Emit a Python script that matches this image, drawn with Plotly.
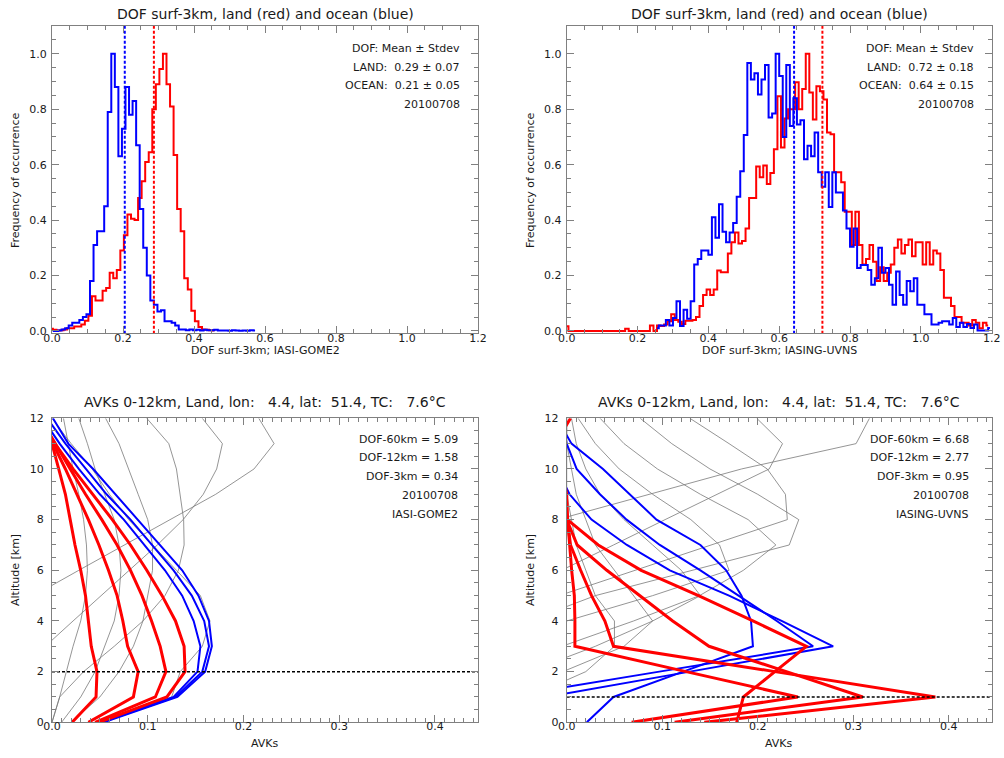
import plotly.graph_objects as go

FONT = "DejaVu Sans"
W, H = 1004, 758

# ---------------- top-left: DOF surf-3km histogram, IASI-GOME2 ----------------
tl_bin_width = 0.01
tl_ocean_first_center = 0.002
tl_ocean_freq = [0.0, 0.0, 0.002, 0.005, 0.01, 0.02, 0.03, 0.03, 0.04, 0.05,
                 0.06, 0.18, 0.31, 0.36, 0.36, 0.45, 0.79, 1.0, 0.88, 0.63,
                 0.73, 0.88, 0.78, 0.83, 0.67, 0.44, 0.30, 0.20, 0.11, 0.095,
                 0.07, 0.075, 0.035, 0.035, 0.03, 0.02, 0.005, 0.005, 0.003, 0.005,
                 0.003, 0.004, 0.002, 0.004, 0.003, 0.003, 0.004, 0.002, 0.002, 0.002,
                 0.001, 0.003, 0.002, 0.001, 0.002, 0.001, 0.003, 0.002]
tl_land_first_center = -0.0025
tl_land_freq = [0.008, 0.004, 0.002, 0.003, 0.005, 0.01, 0.01, 0.016, 0.016, 0.023,
                0.037, 0.055, 0.125, 0.11, 0.11, 0.145, 0.155, 0.21, 0.19, 0.22,
                0.29, 0.345, 0.42, 0.405, 0.40, 0.48, 0.54, 0.61, 0.645, 0.80,
                0.89, 0.945, 1.0, 0.89, 0.81, 0.635, 0.44, 0.36, 0.19, 0.15,
                0.073, 0.035, 0.014, 0.005, 0.004, 0.003, 0.002]
tl_land_mean = 0.287
tl_ocean_mean = 0.205
tl_text = ["DOF: Mean ± Stdev", "LAND:\u00a0 0.29 ± 0.07", "OCEAN:\u00a0 0.21 ± 0.05", "20100708"]

# ---------------- top-right: DOF surf-3km histogram, IASING-UVNS ----------------
tr_bin_width = 0.01
tr_ocean_first_center = 0.255
tr_ocean_freq = [0.01, 0.02, 0.02, 0.04, 0.02, 0.047, 0.107, 0.018, 0.077, 0.044,
                 0.107, 0.24, 0.26, 0.29, 0.29, 0.275, 0.41, 0.336, 0.457, 0.358,
                 0.32, 0.355, 0.39, 0.484, 0.576, 0.707, 0.967, 0.907, 0.93, 0.853,
                 0.907, 0.96, 0.77, 0.785, 1.0, 0.92, 0.70, 0.96, 0.74, 0.84,
                 0.745, 0.76, 0.62, 0.668, 0.63, 0.716, 0.573, 0.52, 0.573, 0.447,
                 0.573, 0.50, 0.50, 0.435, 0.37, 0.304, 0.37, 0.227, 0.238, 0.238,
                 0.22, 0.167, 0.19, 0.30, 0.21, 0.227, 0.167, 0.095, 0.215, 0.13,
                 0.095, 0.18, 0.143, 0.19, 0.095, 0.095, 0.06, 0.06, 0.023, 0.023,
                 0.03, 0.035, 0.035, 0.023, 0.047, 0.014, 0.03, 0.014, 0.025, 0.011,
                 0.023, 0.002, 0.002, 0.002, 0.011]
tr_land_first_center = 0.0
tr_land_freq = [0.017, 0.0, 0.0, 0.0, 0.0, 0.0, 0.0, 0.0, 0.0, 0.0,
                0.0, 0.0, 0.0, 0.0, 0.0, 0.0, 0.0, 0.008, 0.0, 0.0,
                0.0, 0.0, 0.0, 0.0, 0.02, 0.0, 0.02, 0.018, 0.023, 0.035,
                0.06, 0.04, 0.033, 0.025, 0.037, 0.037, 0.04, 0.05, 0.09, 0.13,
                0.15, 0.13, 0.15, 0.218, 0.212, 0.212, 0.28, 0.32, 0.355, 0.316,
                0.325, 0.37, 0.48, 0.48, 0.593, 0.555, 0.597, 0.53, 0.57, 0.656,
                0.847, 0.662, 0.767, 0.80, 0.80, 0.897, 0.80, 0.873, 1.0, 0.86,
                0.763, 0.883, 0.865, 0.835, 0.716, 0.71, 0.573, 0.573, 0.537, 0.43,
                0.43, 0.31, 0.43, 0.31, 0.24, 0.26, 0.31, 0.25, 0.18, 0.23,
                0.18, 0.21, 0.24, 0.30, 0.33, 0.28, 0.31, 0.33, 0.27, 0.32,
                0.32, 0.24, 0.32, 0.24, 0.29, 0.28, 0.22, 0.12, 0.12, 0.09,
                0.05, 0.05, 0.03, 0.03, 0.02, 0.04, 0.03, 0.01, 0.03, 0.02]
tr_land_mean = 0.722
tr_ocean_mean = 0.642
tr_text = ["DOF: Mean ± Stdev", "LAND:\u00a0 0.72 ± 0.18", "OCEAN:\u00a0 0.64 ± 0.15", "20100708"]

# ---------------- AVK panels (altitude levels, km) ----------------
avk_alt = [0, 1, 2, 3, 4, 5, 6, 7, 8, 9, 10, 11, 12]

# bottom-left: IASI-GOME2
bl_red = [
    [0.021, 0.046, 0.047, 0.041, 0.038, 0.035, 0.030, 0.024, 0.019, 0.014, 0.007, 0.000, -0.006],
    [0.038, 0.085, 0.090, 0.079, 0.074, 0.068, 0.059, 0.049, 0.038, 0.026, 0.014, 0.001, -0.010],
    [0.045, 0.108, 0.119, 0.113, 0.104, 0.094, 0.082, 0.068, 0.052, 0.035, 0.019, 0.003, -0.012],
    [0.049, 0.120, 0.139, 0.138, 0.129, 0.115, 0.099, 0.082, 0.063, 0.042, 0.022, 0.003, -0.014],
]
bl_blue = [
    [0.050, 0.127, 0.152, 0.155, 0.148, 0.136, 0.118, 0.097, 0.075, 0.050, 0.028, 0.008, -0.010],
    [0.052, 0.129, 0.157, 0.164, 0.159, 0.146, 0.127, 0.104, 0.082, 0.057, 0.035, 0.014, -0.005],
    [0.054, 0.131, 0.160, 0.167, 0.164, 0.153, 0.136, 0.113, 0.090, 0.066, 0.043, 0.017, 0.001],
]
bl_gray = [
    [-0.05, -0.06, -0.06, -0.05, -0.035, -0.019, 0.028, 0.076, 0.123, 0.171, 0.211, 0.232, 0.216],
    [-0.03, -0.035, -0.03, -0.007, 0.022, 0.051, 0.080, 0.110, 0.137, 0.158, 0.172, 0.178, 0.157],
    [0.000, 0.008, 0.033, 0.065, 0.095, 0.118, 0.132, 0.138, 0.1375, 0.134, 0.130, 0.122, 0.099],
    [0.055, 0.125, 0.134, 0.157, 0.165, 0.155, 0.130, 0.105, 0.080, 0.060, 0.042, 0.020, 0.000],
    [0.020, 0.050, 0.070, 0.085, 0.095, 0.100, 0.105, 0.105, 0.100, 0.090, 0.080, 0.070, 0.056],
    [0.010, 0.030, 0.045, 0.055, 0.065, 0.070, 0.072, 0.070, 0.065, 0.055, 0.045, 0.037, 0.028],
    [0.000, 0.008, 0.015, 0.022, 0.030, 0.035, 0.037, 0.036, 0.033, 0.028, 0.022, 0.017, 0.012],
]
bl_ref_alt = 2
bl_text = ["DOF-60km = 5.09", "DOF-12km = 1.58", "DOF-3km = 0.34", "20100708", "IASI-GOME2"]

# bottom-right: IASING-UVNS
br_red = [
    [0.068, 0.242, 0.125, 0.0086, 0.0086, 0.008, 0.0052, 0.003, 0.001, 0.000, -0.005, -0.010, -0.010],
    [0.144, 0.386, 0.218, 0.049, 0.040, 0.026, 0.0146, 0.004, 0.0007, -0.003, -0.010, -0.010, -0.010],
    [0.113, 0.310, 0.230, 0.149, 0.111, 0.077, 0.042, 0.011, 0.000, -0.005, -0.010, -0.010, -0.010],
    [0.178, 0.185, 0.218, 0.251, 0.195, 0.138, 0.078, 0.033, 0.0007, -0.010, -0.010, -0.012, 0.004],
]
br_blue = [
    [0.021, 0.049, 0.122, 0.195, 0.193, 0.183, 0.167, 0.140, 0.094, 0.066, 0.038, 0.005, -0.010],
    [-0.200, -0.065, 0.097, 0.258, 0.220, 0.180, 0.140, 0.0975, 0.0627, 0.0348, 0.0104, 0.000, -0.005],
    [-0.150, -0.021, 0.129, 0.279, 0.225, 0.170, 0.108, 0.063, 0.026, 0.003, -0.010, -0.020, -0.020],
]
br_gray = [
    [-0.70, -0.60, -0.50, -0.40, -0.30, -0.20, -0.15, -0.10, -0.010, 0.087, 0.183, 0.303, 0.317],
    [-0.30, -0.25, -0.20, -0.15, -0.10, -0.06, -0.005, 0.049, 0.103, 0.158, 0.212, 0.226, 0.199],
    [-0.30, -0.24, -0.18, -0.12, -0.06, -0.008, 0.072, 0.152, 0.231, 0.229, 0.210, 0.170, 0.129],
    [-0.28, -0.22, -0.16, -0.10, -0.04, 0.030, 0.131, 0.233, 0.243, 0.200, 0.150, 0.110, 0.077],
    [-0.20, -0.15, -0.10, -0.005, 0.070, 0.139, 0.185, 0.219, 0.190, 0.140, 0.095, 0.060, 0.035],
    [-0.15, -0.10, -0.06, -0.030, 0.000, 0.090, 0.170, 0.160, 0.130, 0.090, 0.055, 0.030, 0.012],
    [-0.12, -0.08, -0.040, 0.030, 0.090, 0.140, 0.120, 0.090, 0.060, 0.035, 0.020, 0.010, 0.005],
    [-0.10, -0.06, -0.004, 0.060, 0.090, 0.070, 0.050, 0.030, 0.020, 0.010, 0.005, 0.000, 0.000],
    [-0.06, -0.040, 0.020, 0.050, 0.050, 0.030, 0.020, 0.010, 0.005, 0.000, 0.000, 0.000, 0.000],
]
br_ref_alt = 1
br_text = ["DOF-60km = 6.68", "DOF-12km = 2.77", "DOF-3km = 0.95", "20100708", "IASING-UVNS"]

hist_title = "DOF surf-3km, land (red) and ocean (blue)"
avk_title = "AVKs 0-12km, Land, lon:\u00a0\u00a0 4.4, lat:\u00a0 51.4, TC:\u00a0\u00a0 7.6°C"
tl_xlabel = "DOF surf-3km; IASI-GOME2"
tr_xlabel = "DOF surf-3km; IASING-UVNS"
avk_xlabel = "AVKs"
hist_ylabel = "Frequency of occurrence"
avk_ylabel = "Altitude [km]"

RED = "#ff0000"
BLUE = "#0000ff"
GRAY = "#7a7a7a"
AXC = "#808080"
TXT = "#1a1a1a"

fig = go.Figure()


def centers(first, width, n):
    return [first + width * i for i in range(n)]


def add_hist(xa, ya, first, width, freq, color):
    fig.add_trace(go.Scatter(x=centers(first, width, len(freq)), y=freq, mode="lines",
                             line=dict(color=color, width=2, shape="hvh"),
                             xaxis=xa, yaxis=ya, hoverinfo="skip"))


def add_vline(xa, ya, xv, color, y0, y1, width=2):
    fig.add_trace(go.Scatter(x=[xv, xv], y=[y0, y1], mode="lines",
                             line=dict(color=color, width=width, dash="3px,2px"),
                             xaxis=xa, yaxis=ya, hoverinfo="skip"))


# top-left
add_hist("x", "y", tl_land_first_center, tl_bin_width, tl_land_freq, RED)
add_hist("x", "y", tl_ocean_first_center, tl_bin_width, tl_ocean_freq, BLUE)
add_vline("x", "y", tl_ocean_mean, BLUE, -0.01, 1.1)
add_vline("x", "y", tl_land_mean, RED, -0.01, 1.1)
# top-right
add_hist("x2", "y2", tr_land_first_center, tr_bin_width, tr_land_freq, RED)
add_hist("x2", "y2", tr_ocean_first_center, tr_bin_width, tr_ocean_freq, BLUE)
add_vline("x2", "y2", tr_ocean_mean, BLUE, -0.01, 1.1)
add_vline("x2", "y2", tr_land_mean, RED, -0.01, 1.1)


def add_avk(xa, ya, gray, blue, red, ref_alt):
    for g in gray:
        fig.add_trace(go.Scatter(x=g, y=avk_alt, mode="lines", line=dict(color=GRAY, width=0.8),
                                 xaxis=xa, yaxis=ya, hoverinfo="skip"))
    for b in blue:
        fig.add_trace(go.Scatter(x=b, y=avk_alt, mode="lines", line=dict(color=BLUE, width=2),
                                 xaxis=xa, yaxis=ya, hoverinfo="skip"))
    for r in red:
        fig.add_trace(go.Scatter(x=r, y=avk_alt, mode="lines", line=dict(color=RED, width=3),
                                 xaxis=xa, yaxis=ya, hoverinfo="skip"))
    fig.add_trace(go.Scatter(x=[0, 0.445], y=[ref_alt, ref_alt], mode="lines",
                             line=dict(color="black", width=1.5, dash="3px,2px"),
                             xaxis=xa, yaxis=ya, hoverinfo="skip"))


add_avk("x3", "y3", bl_gray, bl_blue, bl_red, bl_ref_alt)
add_avk("x4", "y4", br_gray, br_blue, br_red, br_ref_alt)

# ---------------- axes ----------------
LX = [52 / W, 478 / W]
RX = [566.7 / W, 991.7 / W]
TY = [1 - 333.2 / H, 1 - 26.1 / H]
BY = [1 - 722.3 / H, 1 - 418.3 / H]


def axis(domain, rng, dtick, minor_dtick, fmt, anchor, standoff=0):
    return dict(domain=domain, range=rng, anchor=anchor, showline=True, linecolor=AXC, linewidth=1,
                mirror="ticks", ticks="inside", ticklen=7, tickwidth=1, tickcolor=AXC,
                tick0=0, dtick=dtick, tickformat=fmt, showgrid=False, zeroline=False,
                automargin=False, ticklabelstandoff=standoff,
                tickfont=dict(family=FONT, size=11, color=TXT),
                minor=dict(ticks="inside", ticklen=4, tickwidth=1, tickcolor=AXC,
                           dtick=minor_dtick, tick0=0, showgrid=False))


fig.update_layout(
    template="none",
    width=W, height=H, margin=dict(l=0, r=0, t=0, b=0, pad=0, autoexpand=False),
    paper_bgcolor="white", plot_bgcolor="white", showlegend=False,
    xaxis=axis(LX, [0, 1.2], 0.2, 0.05, ".1f", "y", -5),
    yaxis=axis(TY, [-0.008, 1.1], 0.2, 0.05, ".1f", "x", 2),
    xaxis2=axis(RX, [0, 1.2], 0.2, 0.05, ".1f", "y2", -5),
    yaxis2=axis(TY, [-0.008, 1.1], 0.2, 0.05, ".1f", "x2", 2),
    xaxis3=axis(LX, [0, 0.445], 0.1, 0.01, ".1f", "y3", -7),
    yaxis3=axis(BY, [0, 12], 2, 0.5, "d", "x3", 5),
    xaxis4=axis(RX, [0, 0.445], 0.1, 0.01, ".1f", "y4", -7),
    yaxis4=axis(BY, [0, 12], 2, 0.5, "d", "x4", 5),
)

ann = []


def txt(xpx, ypx, s, size=11, xanchor="center", angle=0):
    ann.append(dict(x=xpx / W, y=1 - ypx / H, xref="paper", yref="paper", text=s, showarrow=False,
                    xanchor=xanchor, yanchor="middle", textangle=angle,
                    font=dict(family=FONT, size=size, color=TXT)))


# titles
txt(265, 14, hist_title, 14)
txt(779, 14, hist_title, 14)
txt(265, 402, avk_title, 14)
txt(779, 402, avk_title, 14)
# axis labels
txt(265, 351, tl_xlabel, 11)
txt(779, 351, tr_xlabel, 11)
txt(265, 743, avk_xlabel, 11)
txt(779, 743, avk_xlabel, 11)
txt(15, 180, hist_ylabel, 11, angle=-90)
txt(530, 180, hist_ylabel, 11, angle=-90)
txt(15, 570, avk_ylabel, 11, angle=-90)
txt(530, 570, avk_ylabel, 11, angle=-90)
# in-panel texts
for i, s in enumerate(tl_text):
    txt(461.7, [48.3, 67.3, 85.7, 104.3][i], s, 11, xanchor="right")
for i, s in enumerate(tr_text):
    txt(976, [48.3, 67.3, 85.7, 104.3][i], s, 11, xanchor="right")
for i, s in enumerate(bl_text):
    txt(460, [439.3, 457.7, 476.7, 495, 514][i], s, 11, xanchor="right")
for i, s in enumerate(br_text):
    txt(971, [439.3, 457.7, 476.7, 495, 514][i], s, 11, xanchor="right")

fig.update_layout(annotations=ann)
fig.write_html("out.html", config={"displayModeBar": False},
               post_script="document.body.style.margin='0px';document.body.style.padding='0px';")
